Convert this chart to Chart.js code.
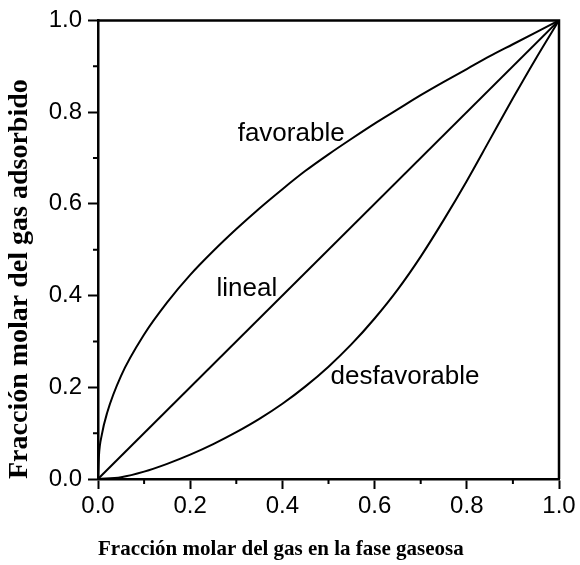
<!DOCTYPE html>
<html lang="es">
<head>
<meta charset="utf-8">
<title>Isotermas de adsorción</title>
<script src="https://cdn.jsdelivr.net/npm/chart.js@4.4.1/dist/chart.umd.min.js"></script>
<style>
    html, body { margin: 0; padding: 0; background: #fff; }
    .chart-box { width: 580px; height: 565px; position: relative; }
</style>
</head>
<body>
<div class="chart-box">
    <canvas id="isothermChart"></canvas>
</div>
<script>
// ==================== DATOS ====================

// Curva favorable
const favX = [0, 0.002, 0.008, 0.02, 0.05, 0.1, 0.15, 0.2, 0.25, 0.3, 0.35, 0.4, 0.45, 0.5, 0.55, 0.6, 0.65, 0.7, 0.75, 0.8, 0.85, 0.9, 0.95, 1.0];
const favY = [0, 0.05, 0.095, 0.145, 0.225, 0.315, 0.385, 0.445, 0.497, 0.545, 0.59, 0.632, 0.672, 0.708, 0.742, 0.775, 0.806, 0.837, 0.866, 0.894, 0.922, 0.948, 0.974, 1.0];

// Curva lineal
const linX = [0, 1];
const linY = [0, 1];

// Curva desfavorable
const desX = [0, 0.05, 0.1, 0.15, 0.2, 0.25, 0.3, 0.35, 0.4, 0.45, 0.5, 0.55, 0.6, 0.65, 0.7, 0.75, 0.8, 0.85, 0.9, 0.95, 1.0];
const desY = [0, 0.004, 0.016, 0.033, 0.053, 0.076, 0.102, 0.131, 0.164, 0.202, 0.245, 0.294, 0.35, 0.413, 0.485, 0.565, 0.65, 0.74, 0.83, 0.917, 1.0];

// Marcas de los ejes
const majorTicks = [0, 0.2, 0.4, 0.6, 0.8, 1.0];
const minorTicks = [0.1, 0.3, 0.5, 0.7, 0.9];

// Etiquetas de las curvas
const curveLabels = ['favorable', 'lineal', 'desfavorable'];

const toPoints = (xs, ys) => xs.map((x, i) => ({ x: x, y: ys[i] }));

// ==================== PLUGIN: marco, marcas menores y etiquetas ====================
const extrasPlugin = {
    id: 'extras',
    afterDraw(chart) {
        const { ctx, chartArea: a, scales } = chart;
        const x = scales.x, y = scales.y;
        ctx.save();
        ctx.strokeStyle = '#000';

        // lados superior y derecho del marco
        ctx.lineWidth = 2.5;
        ctx.beginPath();
        ctx.moveTo(a.left, a.top);
        ctx.lineTo(a.right, a.top);
        ctx.lineTo(a.right, a.bottom);
        ctx.stroke();

        // marcas menores
        ctx.lineWidth = 2;
        ctx.beginPath();
        minorTicks.forEach(v => {
            const px = x.getPixelForValue(v);
            ctx.moveTo(px, a.bottom);
            ctx.lineTo(px, a.bottom + 5);
            const py = y.getPixelForValue(v);
            ctx.moveTo(a.left, py);
            ctx.lineTo(a.left - 5, py);
        });
        ctx.stroke();

        // texto de cada curva
        const spots = [[0.419, 0.738], [0.323, 0.399], [0.666, 0.208]];
        ctx.fillStyle = '#000';
        ctx.font = '26px "Liberation Sans", Arial, sans-serif';
        ctx.textAlign = 'center';
        ctx.textBaseline = 'alphabetic';
        curveLabels.forEach((txt, i) => {
            ctx.fillText(txt, x.getPixelForValue(spots[i][0]), y.getPixelForValue(spots[i][1]));
        });
        ctx.restore();
    }
};

const lineStyle = {
    showLine: true,
    borderColor: '#000',
    backgroundColor: '#000',
    borderWidth: 2,
    pointRadius: 0,
    cubicInterpolationMode: 'monotone',
    fill: false
};

const tickFont = { family: '"Liberation Sans", Arial, sans-serif', size: 24 };

new Chart(document.getElementById('isothermChart').getContext('2d'), {
    type: 'scatter',
    data: {
        datasets: [
            Object.assign({ label: curveLabels[0], data: toPoints(favX, favY) }, lineStyle),
            Object.assign({ label: curveLabels[1], data: toPoints(linX, linY) }, lineStyle),
            Object.assign({ label: curveLabels[2], data: toPoints(desX, desY) }, lineStyle)
        ]
    },
    options: {
        responsive: true,
        maintainAspectRatio: false,
        animation: false,
        layout: { padding: { top: 18, right: 21, left: 0, bottom: 0 } },
        plugins: {
            legend: { display: false },
            tooltip: { enabled: false }
        },
        scales: {
            x: {
                type: 'linear',
                min: 0,
                max: 1,
                afterBuildTicks: scale => { scale.ticks = majorTicks.map(v => ({ value: v })); },
                afterFit: scale => { scale.height = 86; },
                ticks: {
                    color: '#000',
                    font: tickFont,
                    padding: 3,
                    maxRotation: 0,
                    callback: v => Number(v).toFixed(1)
                },
                grid: { drawOnChartArea: false, drawTicks: true, tickLength: 10, tickWidth: 2, tickColor: '#000' },
                border: { color: '#000', width: 2.5 },
                title: {
                    display: true,
                    text: 'Fracción molar del gas en la fase gaseosa',
                    align: 'start',
                    color: '#000',
                    font: { family: '"Liberation Serif", "Times New Roman", serif', size: 21, weight: 'bold' },
                    padding: { top: 0, bottom: 3 }
                }
            },
            y: {
                type: 'linear',
                min: 0,
                max: 1,
                afterBuildTicks: scale => { scale.ticks = majorTicks.map(v => ({ value: v })); },
                afterFit: scale => { scale.width = 98; },
                ticks: {
                    color: '#000',
                    font: tickFont,
                    padding: 6,
                    callback: v => Number(v).toFixed(1)
                },
                grid: { drawOnChartArea: false, drawTicks: true, tickLength: 10, tickWidth: 2, tickColor: '#000' },
                border: { color: '#000', width: 2.5 },
                title: {
                    display: true,
                    text: 'Fracción molar del gas adsorbido',
                    align: 'start',
                    color: '#000',
                    font: { family: '"Liberation Serif", "Times New Roman", serif', size: 28, weight: 'bold' },
                    padding: { top: 3, bottom: 0 }
                }
            }
        }
    },
    plugins: [extrasPlugin]
});
</script>
</body>
</html>
